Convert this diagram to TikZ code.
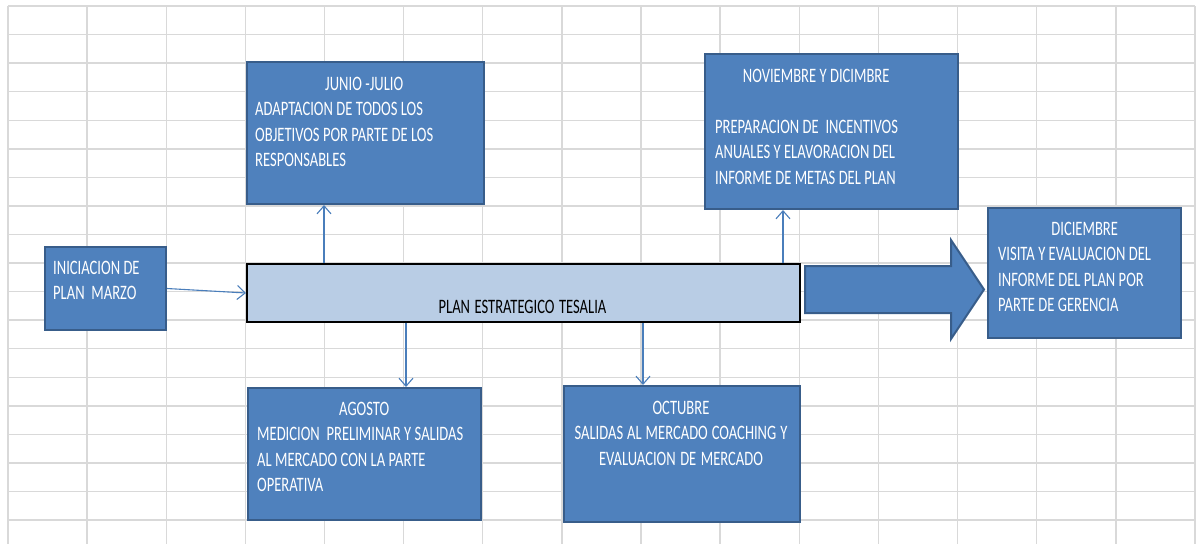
\documentclass[tikz,border=0pt]{standalone}
\usepackage{fontspec}
\setmainfont{Carlito}
\newfontfamily\boxfont[FakeStretch=0.71]{Carlito}
\newcommand\tightsp{\spaceskip=3.4pt plus 1pt minus 0.5pt\relax}
\usetikzlibrary{arrows.meta,calc}
\definecolor{gridc}{HTML}{D9D9D9}
\definecolor{boxfill}{HTML}{4F81BD}
\definecolor{boxline}{HTML}{385D8A}
\definecolor{planfill}{HTML}{B9CDE5}
\definecolor{arrowc}{HTML}{4A7EBB}
\begin{document}
\begin{tikzpicture}[x=1pt,y=-1pt,
  box/.style={draw=boxline, fill=boxfill, line width=2pt, inner sep=0pt, anchor=north west},
  txt/.style={text=white, font=\boxfont\fontsize{20.5}{25.6}\selectfont, inner sep=0pt, align=left, text width=260pt, anchor=base west},
  ar/.style={draw=arrowc, line width=1.1pt, -{Straight Barb[length=8pt,width=14pt]}}]
\useasboundingbox (0,0) rectangle (1199,544);
% spreadsheet grid
\foreach \i in {0,...,15} \draw[gridc, line width=1.4pt] ({8+79.13*\i},6) -- ({8+79.13*\i},544);
\foreach \j in {0,...,18} \draw[gridc, line width=1.4pt] (8,{6+28.56*\j}) -- (1195,{6+28.56*\j});
% boxes
\node[box, minimum width=237pt, minimum height=142pt] (junio) at (246,61) {};
\node[box, minimum width=253pt, minimum height=155pt] (nov) at (704,53) {};
\node[box, minimum width=121pt, minimum height=83pt] (ini) at (44,246) {};
\node[box, minimum width=193pt, minimum height=130pt] (dic) at (987,207) {};
\node[box, minimum width=233pt, minimum height=132pt] (ago) at (247,387) {};
\node[box, minimum width=236pt, minimum height=136pt] (oct) at (563,385) {};
\node[box, draw=black, fill=planfill, minimum width=553pt, minimum height=58pt] (plan) at (246,263) {};
% big block arrow
\draw[draw=boxline, fill=boxfill, line width=2pt] (805,266) -- (951,266) -- (951,240) -- (984,289.5) -- (951,339) -- (951,313) -- (805,313) -- cycle;
% texts
\node[txt] (junioT) at (255,90) {\tightsp\makebox[218pt][c]{JUNIO -JULIO}\\ADAPTACION DE TODOS LOS\\OBJETIVOS POR PARTE DE LOS\\RESPONSABLES};
\node[txt] (novT) at (715,82) {\tightsp\makebox[202pt][c]{NOVIEMBRE Y DICIMBRE}\\[25.6pt]PREPARACION DE~ INCENTIVOS\\ANUALES Y ELAVORACION DEL\\INFORME DE METAS DEL PLAN};
\node[txt] (iniT) at (53,274) {\tightsp INICIACION DE\\PLAN~ MARZO};
\node[txt] (dicT) at (998,235) {\tightsp\makebox[173pt][c]{DICIEMBRE}\\VISITA Y EVALUACION DEL\\INFORME DEL PLAN POR\\PARTE DE GERENCIA};
\node[txt] (agoT) at (257,415) {\tightsp\makebox[214pt][c]{AGOSTO}\\MEDICION~ PRELIMINAR Y SALIDAS\\AL MERCADO CON LA PARTE\\OPERATIVA};
\node[txt, align=center, anchor=base] (octT) at (681,414) {\tightsp OCTUBRE\\SALIDAS AL MERCADO COACHING Y\\EVALUACION DE MERCADO};
\node[txt, text=black, align=center, anchor=base] (planT) at (522.5,313) {\tightsp PLAN ESTRATEGICO TESALIA};
% connectors
\draw[ar] (ini.east) -- (plan.west);
\draw[ar] ([xshift=-41.5pt]junio.south |- plan.north) -- ([xshift=-41.5pt]junio.south);
\draw[ar] ([xshift=-48.5pt]nov.south |- plan.north) -- ([xshift=-48.5pt]nov.south);
\draw[ar] ([xshift=41.5pt]ago.north |- plan.south) -- ([xshift=41.5pt]ago.north);
\draw[ar] ([xshift=-39pt]oct.north |- plan.south) -- ([xshift=-39pt]oct.north);
\end{tikzpicture}
\end{document}
